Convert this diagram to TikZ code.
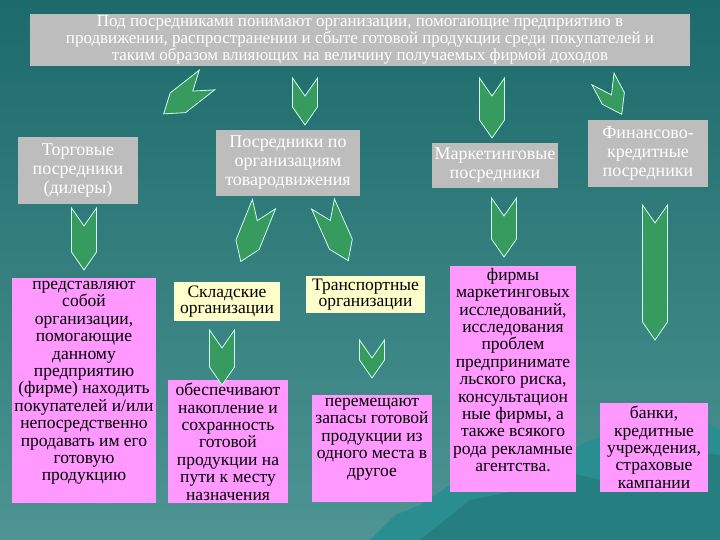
\documentclass[tikz,border=0pt]{standalone}
\usepackage{fontspec}
\setmainfont{Liberation Serif}
\definecolor{bgtop}{HTML}{1C6A6A}
\definecolor{bgbot}{HTML}{4E9494}
\definecolor{mount}{HTML}{2A8E90}
\definecolor{greybox}{HTML}{BDBDBD}
\definecolor{pinkbox}{HTML}{FF99FF}
\definecolor{yelbox}{HTML}{FFFFCC}
\definecolor{arrgreen}{HTML}{379A5E}
\definecolor{arredge}{HTML}{CFFFEF}
\newcommand{\chev}[5]{% x y angle length name
  \begin{scope}[shift={(#1,#2)},rotate=#3]
    \draw[arrowsh] (-12.5,0) -- (0,18) -- (12.5,0) -- (12.5,#4-18) -- (0,#4) -- (-12.5,#4-18) -- cycle;
    \coordinate (#5) at (0,#4);
  \end{scope}}
% box: x1 y1 x2 y2 colour name
\newcommand{\pbx}[6]{\fill[#5] (#1,#2) rectangle (#3,#4); \coordinate (#6) at ({(#1+#3)/2},#2);}
\begin{document}
\begin{tikzpicture}[x=1pt,y=-1pt,
  arrowsh/.style={fill=arrgreen,draw=arredge,line width=0.8pt,line join=miter},
  gbox/.style={fill=greybox,text=white,align=center,inner sep=1pt,font=\fontsize{18}{19}\selectfont},
  ptxt/.style={text=black,align=center,inner sep=0pt,anchor=north,font=\fontsize{17.5}{17.4}\selectfont},
  ybox/.style={fill=yelbox,text=black,align=center,inner sep=1pt,font=\fontsize{17.5}{16}\selectfont}]
\useasboundingbox (0,0) rectangle (720,540);
\shade[top color=bgtop,bottom color=bgbot] (0,0) rectangle (720,540);
\fill[mount] (370,540) -- (395,515) -- (420,505) -- (450,485) -- (480,478) -- (520,462) -- (560,455) -- (590,440) -- (620,432) -- (650,445) -- (680,420) -- (700,418) -- (720,430) -- (720,540) -- cycle;
\fill[mount!70!black,opacity=0.35] (420,540) -- (470,500) -- (520,490) -- (560,470) -- (600,480) -- (640,470) -- (680,450) -- (720,455) -- (720,540) -- cycle;

\node[gbox,minimum width=660,minimum height=52,font=\fontsize{17}{14.5}\selectfont] (top) at (360,40)
 {Под посредниками понимают организации, помогающие предприятию в\\продвижении, распространении и сбыте готовой продукции среди покупателей и\\таким образом влияющих на величину получаемых фирмой доходов};

\node[gbox,minimum width=120,minimum height=67] (torg) at (78,170.5) {Торговые\\посредники\\(дилеры)};
\node[gbox,minimum width=144,minimum height=66] (tov) at (288,163) {Посредники по\\организациям\\товародвижения};
\node[gbox,minimum width=126,minimum height=45] (mark) at (495,165.5) {Маркетинговые\\посредники};
\node[gbox,minimum width=120,minimum height=67] (fin) at (648,153.5) {Финансово-\\кредитные\\посредники};

\pbx{12}{278}{156}{503}{pinkbox}{b1}
\node[ptxt] (p1) at ([yshift=-3]b1) {представляют\\собой\\организации,\\помогающие\\данному\\предприятию\\(фирме) находить\\покупателей и/или\\непосредственно\\продавать им его\\готовую\\продукцию};
\node[ybox,minimum width=106,minimum height=39] (skl) at (227,301.5) {Складские\\организации};
\pbx{168}{380}{288}{503}{pinkbox}{b2}
\node[ptxt] (p2) at ([yshift=-3]b2) {обеспечивают\\накопление и\\сохранность\\готовой\\продукции на\\пути к месту\\назначения};
\node[ybox,minimum width=119,minimum height=37] (tr) at (365.5,294.5) {Транспортные\\организации};
\pbx{312}{395}{432}{502}{pinkbox}{b3}
\node[ptxt] (p3) at ([yshift=-3]b3) {перемещают\\запасы готовой\\продукции из\\одного места в\\другое};
\pbx{450}{266}{576}{492}{pinkbox}{b4}
\node[ptxt] (p4) at ([yshift=-2]b4) {фирмы\\маркетинговых\\исследований,\\исследования\\проблем\\предпринимате\\льского риска,\\консультацион\\ные фирмы, а\\также всякого\\рода рекламные\\агентства.};
\pbx{600}{403}{708}{492}{pinkbox}{b5}
\node[ptxt] (p5) at ([yshift=-3]b5) {банки,\\кредитные\\учреждения,\\страховые\\кампании};

\chev{207}{80}{-52}{55}{a1}
\chev{305}{78}{0}{47}{a2}
\chev{492}{78}{0}{60}{a3}
\chev{603}{79}{28}{40}{a4}
\chev{84}{208}{0}{62}{a5}
\chev{264}{204}{-22}{62}{a6}
\chev{323}{204}{24}{62}{a7}
\chev{504}{198}{0}{59}{a8}
\chev{655}{205}{0}{135}{a9}
\chev{222}{330}{0}{55}{a10}
\chev{372}{340}{0}{38}{a11}
\end{tikzpicture}
\end{document}
